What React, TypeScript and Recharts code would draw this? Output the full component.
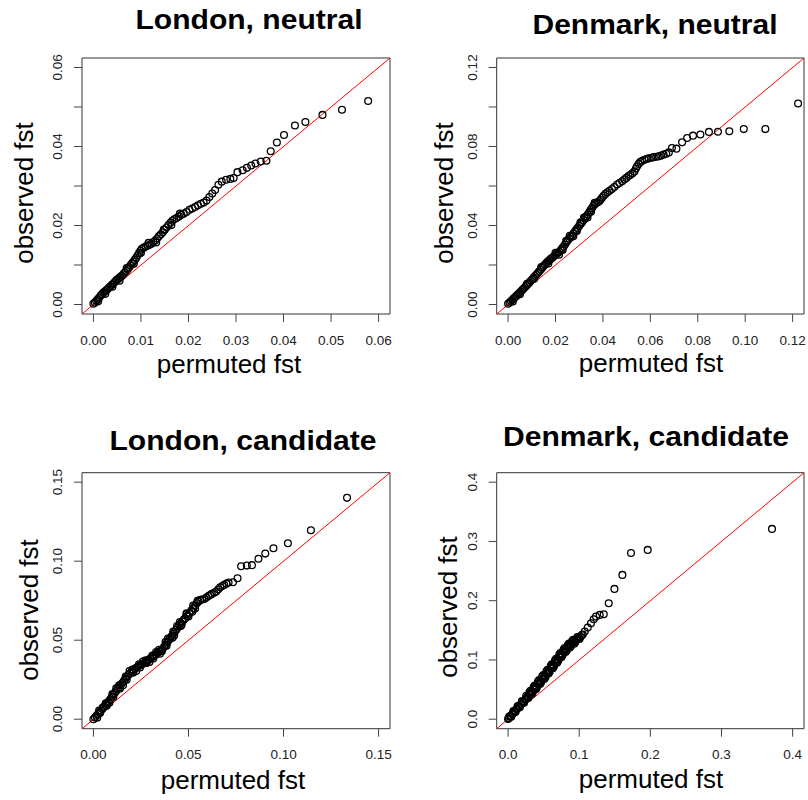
import React from 'react';
import { ScatterChart, Scatter, XAxis, YAxis, ReferenceLine, ReferenceArea } from 'recharts';

const FONT = '"Liberation Sans", Arial, Helvetica, sans-serif';

const londonNeutral: [number, number][] = [
  [0.0000, 0.0002], [0.0003, 0.0005], [0.0006, 0.0009], [0.0009, 0.0013], [0.0012, 0.0017], [0.0015, 0.0022],
  [0.0018, 0.0026], [0.0021, 0.0030], [0.0024, 0.0033], [0.0027, 0.0036], [0.0030, 0.0039], [0.0033, 0.0043],
  [0.0036, 0.0046], [0.0039, 0.0050], [0.0042, 0.0053], [0.0045, 0.0057], [0.0048, 0.0061], [0.0051, 0.0064],
  [0.0054, 0.0067], [0.0057, 0.0070], [0.0060, 0.0073], [0.0063, 0.0077], [0.0066, 0.0081], [0.0069, 0.0085],
  [0.0072, 0.0089], [0.0075, 0.0094], [0.0078, 0.0099], [0.0081, 0.0104], [0.0084, 0.0108], [0.0087, 0.0113],
  [0.0090, 0.0118], [0.0093, 0.0124], [0.0096, 0.0130], [0.0099, 0.0136], [0.0102, 0.0141], [0.0106, 0.0144],
  [0.0110, 0.0147], [0.0114, 0.0149], [0.0118, 0.0151], [0.0122, 0.0154], [0.0126, 0.0158], [0.0130, 0.0162],
  [0.0134, 0.0167], [0.0138, 0.0173], [0.0142, 0.0178], [0.0146, 0.0183], [0.0150, 0.0189], [0.0154, 0.0195],
  [0.0158, 0.0201], [0.0162, 0.0207], [0.0166, 0.0212], [0.0170, 0.0216], [0.0175, 0.0219], [0.0180, 0.0223],
  [0.0185, 0.0227], [0.0190, 0.0230], [0.0196, 0.0234], [0.0202, 0.0240], [0.0208, 0.0243], [0.0214, 0.0247],
  [0.0220, 0.0251], [0.0226, 0.0255], [0.0232, 0.0258], [0.0238, 0.0263], [0.0244, 0.0272], [0.0250, 0.0281],
  [0.0256, 0.0290], [0.0263, 0.0303], [0.0270, 0.0311], [0.0279, 0.0316], [0.0288, 0.0318], [0.0295, 0.0320],
  [0.0303, 0.0335], [0.0314, 0.0340], [0.0323, 0.0346], [0.0332, 0.0352], [0.0341, 0.0357], [0.0352, 0.0362],
  [0.0364, 0.0364], [0.0373, 0.0388], [0.0386, 0.0410], [0.0401, 0.0429], [0.0424, 0.0453], [0.0446, 0.0462],
  [0.0482, 0.0480], [0.0523, 0.0493], [0.0578, 0.0515],
  // points on the lower / upper edge of the dense band
  [0.0010, 0.0008], [0.0025, 0.0027], [0.0040, 0.0045], [0.0055, 0.0060], [0.0070, 0.0092], [0.0085, 0.0103],
  [0.0100, 0.0131], [0.0116, 0.0156], [0.0132, 0.0157], [0.0148, 0.0190], [0.0164, 0.0201], [0.0182, 0.0230],
];

const denmarkNeutral: [number, number][] = [
  [0.0000, 0.0004], [0.0006, 0.0010], [0.0012, 0.0017], [0.0018, 0.0024], [0.0024, 0.0031], [0.0030, 0.0038],
  [0.0036, 0.0045], [0.0042, 0.0052], [0.0048, 0.0059], [0.0054, 0.0066], [0.0060, 0.0074], [0.0066, 0.0081],
  [0.0072, 0.0089], [0.0078, 0.0096], [0.0084, 0.0104], [0.0090, 0.0112], [0.0096, 0.0120], [0.0102, 0.0128],
  [0.0108, 0.0136], [0.0114, 0.0144], [0.0120, 0.0152], [0.0126, 0.0160], [0.0132, 0.0168], [0.0138, 0.0177],
  [0.0144, 0.0186], [0.0150, 0.0195], [0.0156, 0.0203], [0.0162, 0.0211], [0.0168, 0.0218], [0.0174, 0.0224],
  [0.0180, 0.0231], [0.0186, 0.0237], [0.0192, 0.0243], [0.0198, 0.0249], [0.0204, 0.0255], [0.0210, 0.0261],
  [0.0216, 0.0267], [0.0222, 0.0275], [0.0228, 0.0284], [0.0234, 0.0293], [0.0240, 0.0304], [0.0246, 0.0315],
  [0.0252, 0.0325], [0.0258, 0.0334], [0.0264, 0.0342], [0.0270, 0.0350], [0.0276, 0.0360], [0.0282, 0.0370],
  [0.0288, 0.0379], [0.0294, 0.0388], [0.0300, 0.0398], [0.0306, 0.0408], [0.0312, 0.0417], [0.0318, 0.0427],
  [0.0324, 0.0437], [0.0330, 0.0446], [0.0336, 0.0456], [0.0342, 0.0467], [0.0348, 0.0478], [0.0354, 0.0489],
  [0.0360, 0.0500], [0.0366, 0.0507], [0.0372, 0.0514], [0.0378, 0.0518], [0.0384, 0.0523], [0.0390, 0.0530],
  [0.0396, 0.0540], [0.0403, 0.0551], [0.0411, 0.0560], [0.0419, 0.0568], [0.0428, 0.0576], [0.0438, 0.0585],
  [0.0448, 0.0595], [0.0460, 0.0607], [0.0470, 0.0615], [0.0481, 0.0624], [0.0490, 0.0633], [0.0499, 0.0641],
  [0.0508, 0.0650], [0.0516, 0.0657], [0.0525, 0.0665], [0.0533, 0.0674], [0.0539, 0.0688], [0.0544, 0.0700],
  [0.0551, 0.0712], [0.0558, 0.0722], [0.0566, 0.0728], [0.0575, 0.0733], [0.0584, 0.0737], [0.0593, 0.0740],
  [0.0604, 0.0743], [0.0614, 0.0746], [0.0625, 0.0748], [0.0635, 0.0750], [0.0646, 0.0754], [0.0656, 0.0759],
  [0.0667, 0.0763], [0.0678, 0.0770], [0.0691, 0.0792], [0.0710, 0.0789], [0.0734, 0.0821], [0.0755, 0.0843],
  [0.0780, 0.0855], [0.0811, 0.0861], [0.0847, 0.0874], [0.0885, 0.0875], [0.0933, 0.0877], [0.0994, 0.0888],
  [0.1085, 0.0888], [0.1223, 0.1018],
  // points on the lower / upper edge of the dense band
  [0.0020, 0.0015], [0.0050, 0.0052], [0.0080, 0.0105], [0.0110, 0.0130], [0.0140, 0.0190], [0.0170, 0.0208],
  [0.0200, 0.0262], [0.0230, 0.0276], [0.0260, 0.0348], [0.0290, 0.0372], [0.0320, 0.0440], [0.0350, 0.0470],
  [0.0215, 0.0252], [0.0245, 0.0322], [0.0275, 0.0345], [0.0305, 0.0415], [0.0335, 0.0440], [0.0365, 0.0515],
];

const londonCandidate: [number, number][] = [
  [0.0000, 0.0000], [0.0008, 0.0011], [0.0016, 0.0022], [0.0024, 0.0033], [0.0032, 0.0044], [0.0040, 0.0055],
  [0.0048, 0.0066], [0.0056, 0.0077], [0.0064, 0.0088], [0.0072, 0.0099], [0.0080, 0.0112], [0.0088, 0.0125],
  [0.0096, 0.0139], [0.0104, 0.0153], [0.0112, 0.0166], [0.0120, 0.0179], [0.0128, 0.0191], [0.0136, 0.0203],
  [0.0144, 0.0216], [0.0152, 0.0229], [0.0160, 0.0242], [0.0168, 0.0255], [0.0176, 0.0268], [0.0184, 0.0280],
  [0.0193, 0.0291], [0.0202, 0.0301], [0.0211, 0.0311], [0.0220, 0.0320], [0.0229, 0.0329], [0.0238, 0.0336],
  [0.0247, 0.0342], [0.0256, 0.0348], [0.0265, 0.0354], [0.0274, 0.0361], [0.0283, 0.0369], [0.0292, 0.0377],
  [0.0301, 0.0385], [0.0310, 0.0393], [0.0319, 0.0401], [0.0328, 0.0410], [0.0337, 0.0419], [0.0346, 0.0427],
  [0.0355, 0.0434], [0.0364, 0.0444], [0.0372, 0.0458], [0.0380, 0.0472], [0.0388, 0.0486], [0.0396, 0.0500],
  [0.0404, 0.0513], [0.0412, 0.0527], [0.0420, 0.0541], [0.0428, 0.0553], [0.0436, 0.0566], [0.0444, 0.0580],
  [0.0452, 0.0594], [0.0460, 0.0607], [0.0468, 0.0619], [0.0476, 0.0630], [0.0483, 0.0639], [0.0494, 0.0655],
  [0.0505, 0.0671], [0.0515, 0.0687], [0.0526, 0.0703], [0.0535, 0.0719], [0.0544, 0.0734], [0.0553, 0.0745],
  [0.0562, 0.0755], [0.0572, 0.0758], [0.0583, 0.0761], [0.0594, 0.0770], [0.0605, 0.0780], [0.0614, 0.0786],
  [0.0623, 0.0793], [0.0635, 0.0800], [0.0646, 0.0808], [0.0657, 0.0822], [0.0667, 0.0835], [0.0678, 0.0843],
  [0.0688, 0.0850], [0.0700, 0.0858], [0.0711, 0.0865], [0.0734, 0.0867], [0.0758, 0.0892], [0.0777, 0.0968],
  [0.0807, 0.0972], [0.0834, 0.0975], [0.0868, 0.1015], [0.0904, 0.1048], [0.0947, 0.1082], [0.1023, 0.1114],
  [0.1144, 0.1196], [0.1334, 0.1401],
  // points on the lower / upper edge of the dense band
  [0.0020, 0.0010], [0.0050, 0.0075], [0.0084, 0.0105], [0.0120, 0.0195], [0.0156, 0.0215], [0.0190, 0.0305],
  [0.0225, 0.0305], [0.0260, 0.0365], [0.0295, 0.0362], [0.0330, 0.0425], [0.0360, 0.0430], [0.0392, 0.0510],
  [0.0416, 0.0515], [0.0440, 0.0590], [0.0464, 0.0598], [0.0490, 0.0665], [0.0520, 0.0680], [0.0548, 0.0750],
  [0.0035, 0.0040], [0.0070, 0.0085], [0.0105, 0.0140], [0.0140, 0.0195], [0.0175, 0.0250], [0.0210, 0.0295],
  [0.0245, 0.0328], [0.0280, 0.0355], [0.0315, 0.0385], [0.0350, 0.0415], [0.0385, 0.0465], [0.0425, 0.0530],
  [0.0460, 0.0590], [0.0500, 0.0650], [0.0535, 0.0700],
  [0.0030, 0.0055], [0.0065, 0.0100], [0.0100, 0.0160], [0.0135, 0.0215], [0.0170, 0.0270], [0.0205, 0.0315],
  [0.0240, 0.0348], [0.0275, 0.0373], [0.0310, 0.0403], [0.0345, 0.0440], [0.0380, 0.0490], [0.0420, 0.0555],
  [0.0455, 0.0615], [0.0490, 0.0670], [0.0525, 0.0720],
];

const denmarkCandidate: [number, number][] = [
  [0.0000, 0.0003], [0.0030, 0.0045], [0.0060, 0.0088], [0.0090, 0.0130], [0.0120, 0.0170], [0.0150, 0.0210],
  [0.0180, 0.0250], [0.0210, 0.0290], [0.0240, 0.0330], [0.0270, 0.0372], [0.0300, 0.0414], [0.0330, 0.0456],
  [0.0360, 0.0500], [0.0390, 0.0545], [0.0420, 0.0590], [0.0450, 0.0636], [0.0480, 0.0680], [0.0510, 0.0722],
  [0.0540, 0.0764], [0.0570, 0.0810], [0.0600, 0.0856], [0.0630, 0.0902], [0.0660, 0.0948], [0.0690, 0.0996],
  [0.0720, 0.1044], [0.0750, 0.1090], [0.0780, 0.1135], [0.0810, 0.1175], [0.0840, 0.1212], [0.0870, 0.1248],
  [0.0900, 0.1282], [0.0930, 0.1312], [0.0960, 0.1340], [0.0990, 0.1366], [0.1020, 0.1390], [0.1050, 0.1430],
  [0.1078, 0.1479], [0.1120, 0.1546], [0.1166, 0.1620], [0.1204, 0.1688], [0.1236, 0.1732], [0.1288, 0.1760],
  [0.1345, 0.1772], [0.1415, 0.1958], [0.1495, 0.2199], [0.1607, 0.2435], [0.1728, 0.2806], [0.1963, 0.2857],
  [0.3710, 0.3212],
  // further points inside the dense band
  [0.0008, 0.0015], [0.0038, 0.0058], [0.0068, 0.0100], [0.0098, 0.0140], [0.0128, 0.0180], [0.0158, 0.0222],
  [0.0188, 0.0262], [0.0218, 0.0300], [0.0248, 0.0342], [0.0278, 0.0384], [0.0308, 0.0426], [0.0338, 0.0468],
  [0.0368, 0.0512], [0.0398, 0.0557], [0.0428, 0.0603], [0.0458, 0.0648], [0.0488, 0.0692], [0.0518, 0.0733],
  [0.0548, 0.0776], [0.0578, 0.0822], [0.0608, 0.0868], [0.0638, 0.0914], [0.0668, 0.0960], [0.0698, 0.1008],
  [0.0728, 0.1056], [0.0758, 0.1100], [0.0788, 0.1145], [0.0818, 0.1185], [0.0848, 0.1222], [0.0878, 0.1257],
  [0.0908, 0.1290], [0.0938, 0.1320], [0.0968, 0.1347], [0.0998, 0.1372],
  // points on the lower / upper edge of the dense band
  [0.0015, 0.0044], [0.0045, 0.0040], [0.0075, 0.0139], [0.0105, 0.0120], [0.0135, 0.0222], [0.0165, 0.0200],
  [0.0195, 0.0305], [0.0225, 0.0280], [0.0255, 0.0395], [0.0285, 0.0360], [0.0315, 0.0480], [0.0345, 0.0445],
  [0.0375, 0.0570], [0.0405, 0.0535], [0.0435, 0.0660], [0.0465, 0.0625], [0.0495, 0.0745], [0.0525, 0.0710],
  [0.0555, 0.0835], [0.0585, 0.0800], [0.0615, 0.0925], [0.0645, 0.0890], [0.0675, 0.1020], [0.0705, 0.0985],
  [0.0735, 0.1115], [0.0765, 0.1080], [0.0795, 0.1200], [0.0825, 0.1160], [0.0855, 0.1275], [0.0885, 0.1235],
  [0.0915, 0.1340], [0.0945, 0.1300], [0.0975, 0.1385], [0.1005, 0.1355], [0.1035, 0.1420],
  [0.0330, 0.0420], [0.0390, 0.0505], [0.0450, 0.0595], [0.0510, 0.0680], [0.0570, 0.0770], [0.0630, 0.0860],
  [0.0690, 0.0955], [0.0750, 0.1045], [0.0810, 0.1135], [0.0870, 0.1210], [0.0930, 0.1275],
  [0.0300, 0.0455], [0.0360, 0.0545], [0.0420, 0.0635], [0.0480, 0.0725], [0.0540, 0.0810], [0.0600, 0.0900],
  [0.0660, 0.0995], [0.0720, 0.1090], [0.0780, 0.1175], [0.0840, 0.1250], [0.0900, 0.1318],
];

const londonNeutralTicks = [0, 0.01, 0.02, 0.03, 0.04, 0.05, 0.06];
const londonNeutralYLabels = [0, 0.02, 0.04, 0.06];
const denmarkNeutralTicks = [0, 0.02, 0.04, 0.06, 0.08, 0.1, 0.12];
const denmarkNeutralYLabels = [0, 0.04, 0.08, 0.12];
const londonCandidateTicks = [0, 0.05, 0.1, 0.15];
const denmarkCandidateTicks = [0, 0.1, 0.2, 0.3, 0.4];

// panel layout (pixel geometry of each quadrant)
const panels = [
  {
    title: 'London, neutral', data: londonNeutral, lim: [-0.0024, 0.0624], ticks: londonNeutralTicks,
    yLabels: londonNeutralYLabels, digits: 2, left: 0, top: 0,
    mTop: 58, mRight: 14, yw: 82, xh: 86,
    titleX: 249, titleY: 29, titleW: 227, xlabX: 229, xlabY: 373, ylabX: 23, ylabY: 193,
  },
  {
    title: 'Denmark, neutral', data: denmarkNeutral, lim: [-0.0048, 0.1248], ticks: denmarkNeutralTicks,
    yLabels: denmarkNeutralYLabels, digits: 2, left: 404, top: 0,
    mTop: 58, mRight: 4, yw: 92.7, xh: 86,
    titleX: 251, titleY: 34, titleW: 245, xlabX: 247, xlabY: 372, ylabX: 39, ylabY: 193,
  },
  {
    title: 'London, candidate', data: londonCandidate, lim: [-0.006, 0.156], ticks: londonCandidateTicks,
    yLabels: londonCandidateTicks, digits: 2, left: 0, top: 400,
    mTop: 72.7, mRight: 14, yw: 82, xh: 71.3,
    titleX: 243, titleY: 50, titleW: 267, xlabX: 233, xlabY: 389, ylabX: 28, ylabY: 210,
  },
  {
    title: 'Denmark, candidate', data: denmarkCandidate, lim: [-0.016, 0.416], ticks: denmarkCandidateTicks,
    yLabels: denmarkCandidateTicks, digits: 1, left: 404, top: 400,
    mTop: 72.7, mRight: 4, yw: 92.7, xh: 71.3,
    titleX: 242, titleY: 46, titleW: 286, xlabX: 247, xlabY: 388, ylabX: 43, ylabY: 207,
  },
];

const Ring = (props: any) => (
  <circle cx={props.cx} cy={props.cy} r={3.4} fill="none" stroke="#000" strokeWidth={1.3} />
);

function Panel({ p }: { p: (typeof panels)[number] }) {
  const data = p.data.map(([x, y]) => ({ x, y }));
  const [lo, hi] = p.lim;
  const fmt = (v: number) => v.toFixed(p.digits);

  const YTick = (props: any) => {
    const { x, y, payload } = props;
    const show = p.yLabels.some((l) => Math.abs(l - payload.value) < 1e-9);
    if (!show) return <g />;
    return (
      <text x={x} y={y} transform={`rotate(-90 ${x} ${y})`} textAnchor="middle" fontSize={13.5} fill="#222" fontFamily={FONT}>
        {fmt(payload.value)}
      </text>
    );
  };

  return (
    <div style={{ position: 'absolute', left: p.left, top: p.top, width: 404, height: 400 }}>
      <ScatterChart width={404} height={400} margin={{ top: p.mTop, right: p.mRight, left: 0, bottom: 0 }}>
        <XAxis
          type="number" dataKey="x" domain={[lo, hi]} ticks={p.ticks} interval={0} allowDataOverflow
          axisLine={false} tickSize={8} tickMargin={13} height={p.xh}
          tickLine={{ stroke: '#444' }} tick={{ fontSize: 13.5, fill: '#222', fontFamily: FONT }} tickFormatter={fmt}
        />
        <YAxis
          type="number" dataKey="y" domain={[lo, hi]} ticks={p.ticks} interval={0} allowDataOverflow
          axisLine={false} tickSize={8} tickMargin={12} width={p.yw}
          tickLine={{ stroke: '#444' }} tick={YTick}
        />
        <ReferenceArea x1={lo} x2={hi} y1={lo} y2={hi} fill="none" stroke="#333" strokeWidth={1} ifOverflow="visible" />
        <Scatter data={data} shape={Ring} isAnimationActive={false} />
        <ReferenceLine segment={[{ x: lo, y: lo }, { x: hi, y: hi }]} stroke="#ff0000" strokeWidth={1} ifOverflow="visible" />
      </ScatterChart>
      <svg width={404} height={400} style={{ position: 'absolute', left: 0, top: 0, pointerEvents: 'none' }} fontFamily={FONT}>
        <text x={p.titleX} y={p.titleY} textAnchor="middle" fontSize={27} fontWeight="bold" fill="#000"
          textLength={p.titleW} lengthAdjust="spacingAndGlyphs">
          {p.title}
        </text>
        <text x={p.xlabX} y={p.xlabY} textAnchor="middle" fontSize={26} fill="#000">permuted fst</text>
        <text x={p.ylabX + 9.5} y={p.ylabY} textAnchor="middle" fontSize={26} fill="#000"
          transform={`rotate(-90 ${p.ylabX + 9.5} ${p.ylabY})`}>
          observed fst
        </text>
      </svg>
    </div>
  );
}

export default function App() {
  return (
    <div style={{ position: 'absolute', left: 0, top: 0, width: 808, height: 800, background: '#fff', fontFamily: FONT }}>
      {panels.map((p) => (
        <Panel key={p.title} p={p} />
      ))}
    </div>
  );
}
